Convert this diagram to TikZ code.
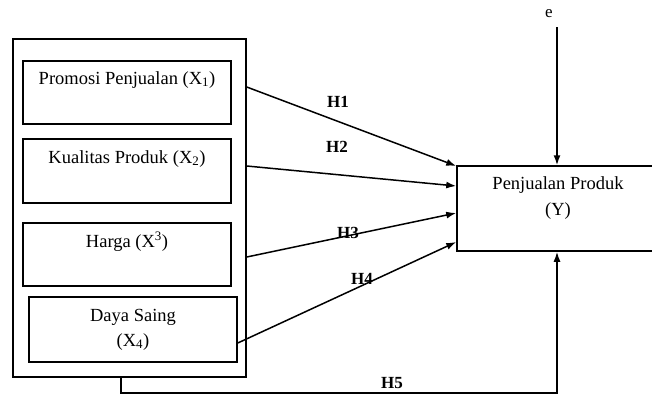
\documentclass[tikz,border=0pt]{standalone}
\usepackage{fontspec}
\setmainfont{Liberation Serif}
\usepackage{tikz}
\usetikzlibrary{arrows.meta,positioning}

\begin{document}
\begin{tikzpicture}[x=1pt,y=-1pt,>={Latex[length=10pt,width=7pt]},
  var/.style={draw, line width=1.5pt, inner sep=0pt, minimum width=208pt, align=center,
    font=\fontsize{18.5}{25}\selectfont},
  hyp/.style={font=\fontsize{17}{20}\selectfont\bfseries},
  link/.style={->, line width=1.5pt}]
\useasboundingbox (0,0) rectangle (652,394);
% variabel bebas
\node[draw, line width=1.5pt, minimum width=233pt, minimum height=338pt] (frame) at (129.5,208) {};
\node[var, text height=23pt, text depth=40pt] (x1) at (127,92.5) {Promosi Penjualan (X\textsubscript{1})};
\node[var, text height=24pt, text depth=40pt] (x2) at (127,171) {Kualitas Produk (X\textsubscript{2})};
\node[var, text height=24pt, text depth=39pt] (x3) at (127,254.5) {Harga (X\textsuperscript{3})};
\node[var, minimum height=65pt] (x4) at (133,329.5) {Daya Saing\\(X\textsubscript{4})};
% variabel terikat
\node[draw, line width=1.5pt, minimum width=200pt, minimum height=85pt] (resp) at (557,208.5) {};
\node[align=center, font=\fontsize{18.5}{26}\selectfont] (ytext) at (558,198) {Penjualan Produk\\(Y)};
\node[font=\fontsize{17}{20}\selectfont] (err) at (549,14) {e};
\coordinate (etop) at (557,27);
% hipotesis
\draw[link] (frame.east |- 0,87) -- (resp.west |- 0,166);
\draw[link] (frame.east |- 0,166) -- (resp.west |- 0,186);
\draw[link] (frame.east |- 0,257) -- (resp.west |- 0,213);
\draw[link] (x4.east |- 0,343) -- (resp.west |- 0,242);
\draw[link] ([xshift=-8.5pt]frame.south) -- ++(0,15) -| (resp.south);
\draw[link] (etop) -- (resp.north);
\node[hyp] (h1) at (338,102) {H1};
\node[hyp] (h2) at (337,147) {H2};
\node[hyp] (h3) at (348,233) {H3};
\node[hyp] (h4) at (362,279) {H4};
\node[hyp] (h5) at (392,383) {H5};
\end{tikzpicture}
\end{document}
